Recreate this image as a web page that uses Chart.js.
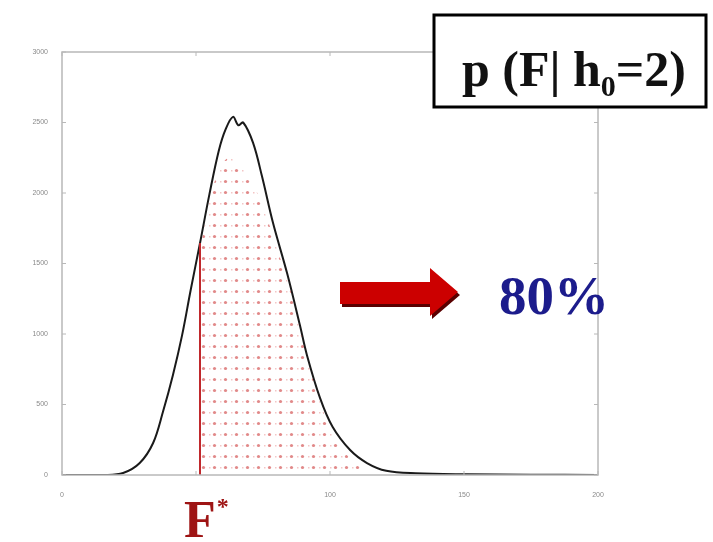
<!DOCTYPE html>
<html>
<head>
<meta charset="utf-8">
<script src="https://cdn.jsdelivr.net/npm/chart.js@4/dist/chart.umd.min.js"></script>
<style>
    body { margin: 0; background: #fff; }
    canvas { display: block; }
</style>
</head>
<body>
<canvas id="distChart" width="713" height="542"></canvas>
<script>
// curve
const fValues = [0, 16, 22.8, 29, 34, 37.7, 41.4, 44.8, 48, 51.5, 55, 58.5, 61, 63.8, 65.8, 67.6, 71.3, 74.6, 78.7, 84, 88.8, 91.4, 96.3, 101, 107.5, 113.8, 121, 132, 151, 175, 200];
const density = [0, 0, 14, 85, 227, 450, 710, 990, 1310, 1645, 1990, 2300, 2450, 2540, 2480, 2500, 2355, 2120, 1790, 1430, 1060, 850, 545, 340, 177, 85, 30, 12, 5, 2, 0];

// shaded region right of F*
const shadeF = [51.5, 51.5, 55, 59, 62.7, 66, 70, 74, 77.6, 81, 85, 90, 96, 100, 106, 112, 120];
const shadeP = [0, 1645, 1950, 2180, 2250, 2200, 2110, 1950, 1760, 1560, 1330, 940, 530, 330, 150, 45, 0];

const xTicks = [0, 50, 100, 150, 200];
const yTicks = [0, 500, 1000, 1500, 2000, 2500, 3000];

function makeDotPattern() {
    const tile = document.createElement('canvas');
    tile.width = 11;
    tile.height = 11;
    const c = tile.getContext('2d');
    c.fillStyle = 'rgba(200, 40, 40, 0.55)';
    c.beginPath();
    c.arc(5.5, 5.5, 1.6, 0, Math.PI * 2);
    c.fill();
    c.fillStyle = 'rgba(220, 90, 90, 0.35)';
    c.fillRect(0, 5, 1.5, 1.5);
    return c.createPattern(tile, 'repeat');
}

const framePlugin = {
    id: 'frame',
    afterDatasetsDraw(chart) {
        const { ctx, chartArea: a, scales } = chart;
        ctx.save();
        ctx.strokeStyle = '#b8b8b8';
        ctx.lineWidth = 1.5;
        ctx.strokeRect(a.left, a.top, a.right - a.left, a.bottom - a.top);
        ctx.lineWidth = 1;
        yTicks.forEach(v => {
            const y = scales.y.getPixelForValue(v);
            ctx.beginPath();
            ctx.moveTo(a.left, y); ctx.lineTo(a.left + 4, y);
            ctx.moveTo(a.right, y); ctx.lineTo(a.right - 4, y);
            ctx.stroke();
        });
        xTicks.forEach(v => {
            const x = scales.x.getPixelForValue(v);
            ctx.beginPath();
            ctx.moveTo(x, a.bottom); ctx.lineTo(x, a.bottom - 4);
            ctx.moveTo(x, a.top); ctx.lineTo(x, a.top + 4);
            ctx.stroke();
        });
        ctx.restore();
    }
};

const notesPlugin = {
    id: 'notes',
    afterDraw(chart) {
        const ctx = chart.ctx;
        ctx.save();

        // label box
        ctx.fillStyle = '#fff';
        ctx.fillRect(434, 15, 272, 92);
        ctx.strokeStyle = '#000';
        ctx.lineWidth = 3;
        ctx.strokeRect(434, 15, 272, 92);
        ctx.fillStyle = '#111';
        ctx.textBaseline = 'alphabetic';
        ctx.font = 'bold 50px "Liberation Serif"';
        ctx.fillText('p (F| h', 462, 86);
        const w = ctx.measureText('p (F| h').width;
        ctx.font = 'bold 30px "Liberation Serif"';
        ctx.fillText('0', 462 + w, 96);
        const w0 = ctx.measureText('0').width;
        ctx.font = 'bold 50px "Liberation Serif"';
        ctx.fillText('=2)', 462 + w + w0, 86);

        // arrow
        ctx.fillStyle = '#5a0000';
        ctx.beginPath();
        ctx.moveTo(342, 285); ctx.lineTo(432, 285); ctx.lineTo(432, 271);
        ctx.lineTo(460, 295); ctx.lineTo(432, 319); ctx.lineTo(432, 307);
        ctx.lineTo(342, 307); ctx.closePath();
        ctx.fill();
        ctx.fillStyle = '#cc0000';
        ctx.beginPath();
        ctx.moveTo(340, 282); ctx.lineTo(430, 282); ctx.lineTo(430, 268);
        ctx.lineTo(458, 292); ctx.lineTo(430, 316); ctx.lineTo(430, 304);
        ctx.lineTo(340, 304); ctx.closePath();
        ctx.fill();

        ctx.fillStyle = '#1c1c8c';
        ctx.font = 'bold 55px "Liberation Serif"';
        ctx.fillText('80%', 499, 314);

        ctx.fillStyle = '#9e1414';
        ctx.font = 'bold 52px "Liberation Serif"';
        ctx.fillText('F', 184, 537);
        const wf = ctx.measureText('F').width;
        ctx.font = 'bold 24px "Liberation Serif"';
        ctx.fillText('*', 184 + wf + 1, 514);

        ctx.restore();
    }
};

const ctx = document.getElementById('distChart').getContext('2d');
new Chart(ctx, {
    type: 'line',
    data: {
        datasets: [{
            label: 'shaded',
            data: shadeF.map((f, i) => ({ x: f, y: shadeP[i] })),
            borderColor: 'rgba(0,0,0,0)',
            borderWidth: 2,
            segment: {
                borderColor: c => c.p0DataIndex === 0 ? '#c0282c' : 'rgba(0,0,0,0)'
            },
            backgroundColor: makeDotPattern(),
            fill: 'origin',
            pointRadius: 0,
            cubicInterpolationMode: 'monotone'
        }, {
            label: 'p(F|h0=2)',
            data: fValues.map((f, i) => ({ x: f, y: density[i] })),
            borderColor: '#1a1a1a',
            borderWidth: 2,
            fill: false,
            pointRadius: 0,
            tension: 0.35
        }]
    },
    options: {
        responsive: false,
        animation: false,
        layout: { padding: { left: 0, top: 52, right: 115, bottom: 0 } },
        plugins: {
            legend: { display: false },
            tooltip: { enabled: false }
        },
        scales: {
            x: {
                type: 'linear',
                min: 0,
                max: 200,
                afterFit: s => { s.height = 67; },
                afterBuildTicks: s => { s.ticks = xTicks.map(v => ({ value: v })); },
                grid: { display: false },
                border: { display: false },
                ticks: {
                    padding: 8,
                    color: '#8a8a8a',
                    font: { family: 'Liberation Sans', size: 7 },
                    callback: v => v === 50 ? '' : String(v)
                }
            },
            y: {
                min: 0,
                max: 3000,
                afterFit: s => { s.width = 62; },
                afterBuildTicks: s => { s.ticks = yTicks.map(v => ({ value: v })); },
                grid: { display: false },
                border: { display: false },
                ticks: {
                    padding: 6,
                    color: '#8a8a8a',
                    font: { family: 'Liberation Sans', size: 7 },
                    callback: v => String(v)
                }
            }
        }
    },
    plugins: [framePlugin, notesPlugin]
});
</script>
</body>
</html>
